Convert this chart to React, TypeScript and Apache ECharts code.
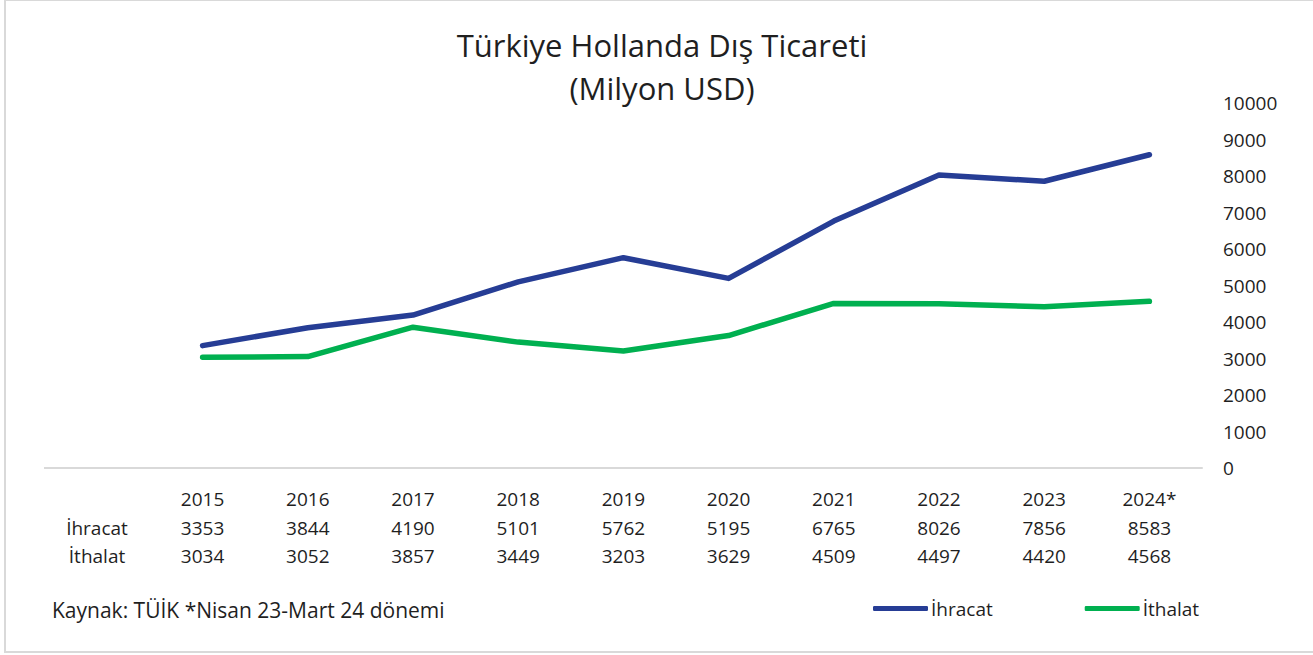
import React, { useEffect, useRef } from "react";
import * as echarts from "echarts";

const years = ["2015", "2016", "2017", "2018", "2019", "2020", "2021", "2022", "2023", "2024*"];
const ihracat = [3353, 3844, 4190, 5101, 5762, 5195, 6765, 8026, 7856, 8583];
const ithalat = [3034, 3052, 3857, 3449, 3203, 3629, 4509, 4497, 4420, 4568];
const seriesNames = ["İhracat", "İthalat"];
const titleText = "Türkiye Hollanda Dış Ticareti\n(Milyon USD)";
const sourceText = "Kaynak: TÜİK *Nisan 23-Mart 24 dönemi";

const FONT = "'Open Sans', 'Noto Sans', sans-serif";
const TXT = "#1f1f1f";

export default function App() {
  const ref = useRef<HTMLDivElement>(null);
  useEffect(() => {
    if (!ref.current) return;
    const chart = echarts.init(ref.current, null, { renderer: "svg" });
    chart.setOption({
      animation: false,
      backgroundColor: "#fff",
      textStyle: { fontFamily: FONT },
      title: {
        text: titleText,
        left: 657,
        top: 18,
        textAlign: "center",
        textStyle: { fontFamily: FONT, fontSize: 31, fontWeight: "normal", color: TXT, lineHeight: 43 },
      },
      legend: {
        left: 868,
        top: 594,
        itemWidth: 55,
        itemHeight: 5,
        itemGap: 92,
        icon: "roundRect",
        data: seriesNames,
        textStyle: { fontFamily: FONT, fontSize: 19, color: TXT, padding: [0, 0, 0, -2] },
      },
      grid: { left: 150, right: 111, top: 103, bottom: 187 },
      xAxis: {
        type: "category",
        data: years,
        boundaryGap: true,
        axisLine: { lineStyle: { color: "#d9d9d9", width: 2 } },
        axisTick: { show: false },
        axisLabel: {
          interval: 0,
          margin: 17,
          fontFamily: FONT,
          fontSize: 19,
          color: TXT,
          lineHeight: 28.5,
          formatter: (v: string, i: number) => `${v}\n${ihracat[i]}\n${ithalat[i]}`,
        },
      },
      yAxis: {
        type: "value",
        position: "right",
        min: 0,
        max: 10000,
        interval: 1000,
        splitLine: { show: false },
        axisLine: { show: false },
        axisTick: { show: false },
        axisLabel: { margin: 21, fontFamily: FONT, fontSize: 19, color: TXT, formatter: (v: number) => String(v) },
      },
      series: [
        {
          name: seriesNames[0],
          type: "line",
          data: ihracat,
          symbol: "none",
          color: "#263d95",
          lineStyle: { width: 5.5, cap: "round", join: "round" },
        },
        {
          name: seriesNames[1],
          type: "line",
          data: ithalat,
          symbol: "none",
          color: "#00b050",
          lineStyle: { width: 5.5, cap: "round", join: "round" },
        },
      ],
      graphic: [
        {
          type: "rect",
          shape: { x: 5, y: 0, width: 1330, height: 652 },
          style: { fill: "none", stroke: "#d9d9d9", lineWidth: 2 },
          silent: true,
        },
        {
          type: "line",
          shape: { x1: 44, y1: 468, x2: 151, y2: 468 },
          style: { stroke: "#d9d9d9", lineWidth: 2 },
          silent: true,
        },
        {
          type: "text",
          x: 97,
          y: 528,
          style: { text: seriesNames[0], fontFamily: FONT, fontSize: 19, fill: TXT, textAlign: "center", textVerticalAlign: "middle" },
        },
        {
          type: "text",
          x: 97,
          y: 556,
          style: { text: seriesNames[1], fontFamily: FONT, fontSize: 19, fill: TXT, textAlign: "center", textVerticalAlign: "middle" },
        },
        {
          type: "text",
          x: 52,
          y: 610,
          style: { text: sourceText, fontFamily: FONT, fontSize: 21, fill: TXT, textAlign: "left", textVerticalAlign: "middle" },
        },
      ],
    });
    return () => chart.dispose();
  }, []);
  return (
    <div
      ref={ref}
      style={{ position: "absolute", left: 0, top: 0, width: 1313, height: 655 }}
    />
  );
}
